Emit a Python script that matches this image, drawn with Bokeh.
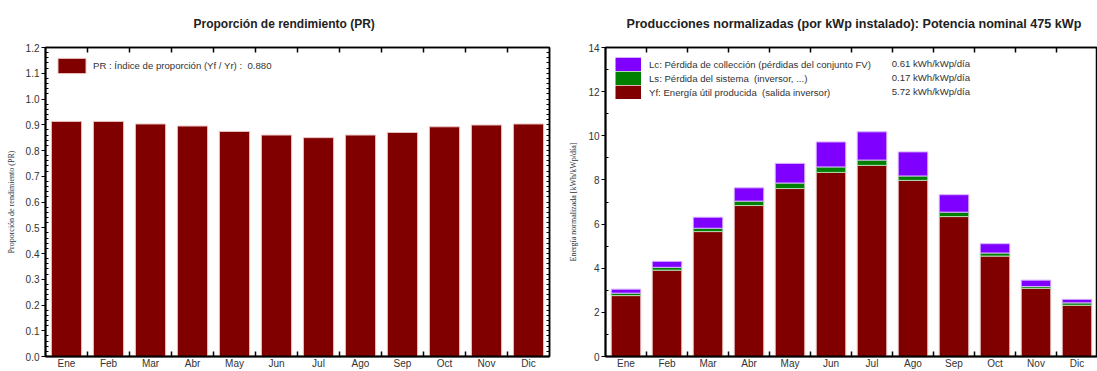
from bokeh.plotting import figure
from bokeh.layouts import row
from bokeh.models import (Range1d, LinearAxis, FixedTicker, NumeralTickFormatter,
                          Legend, LegendItem, Label, ColumnDataSource)
from bokeh.embed import file_html
from bokeh.resources import INLINE

# ---------------- data ----------------
months = ["Ene", "Feb", "Mar", "Abr", "May", "Jun", "Jul", "Ago", "Sep", "Oct", "Nov", "Dic"]
pr = [0.913, 0.913, 0.903, 0.895, 0.874, 0.860, 0.850, 0.860, 0.870, 0.892, 0.899, 0.903]
yf = [2.76, 3.91, 5.66, 6.84, 7.61, 8.34, 8.66, 7.98, 6.34, 4.55, 3.09, 2.32]
ls = [0.11, 0.13, 0.15, 0.20, 0.25, 0.25, 0.24, 0.20, 0.20, 0.14, 0.08, 0.11]
lc = [0.18, 0.27, 0.50, 0.60, 0.89, 1.13, 1.28, 1.09, 0.79, 0.42, 0.29, 0.16]
pr_year = "0.880"
lc_avg = "0.61 kWh/kWp/día"
ls_avg = "0.17 kWh/kWp/día"
yf_avg = "5.72 kWh/kWp/día"
pr_ticks = [0.0, 0.1, 0.2, 0.3, 0.4, 0.5, 0.6, 0.7, 0.8, 0.9, 1.0, 1.1, 1.2]
en_ticks = [0, 2, 4, 6, 8, 10, 12, 14]
en_minor = [1, 3, 5, 7, 9, 11, 13]
title_pr = "Proporción de rendimiento (PR)"
title_en = "Producciones normalizadas (por kWp instalado):  Potencia nominal 475 kWp"

FONT = "Liberation Sans"
SERIF = "Liberation Serif"
RED = "#800000"
GREEN = "#008000"
PURPLE = "#8000ff"

xc = [i + 0.5 for i in range(len(months))]
bounds = list(range(1, len(months)))


def pr_minor(ticks):
    out = []
    for a, b in zip(ticks[:-1], ticks[1:]):
        for k in range(1, 5):
            out.append(a + (b - a) * k / 5)
    return out


def base_fig(width, title, title_size, ymax, bl, br, offset):
    p = figure(width=width, height=371, output_backend="svg", toolbar_location=None,
               x_range=Range1d(0, len(months)), y_range=Range1d(0, ymax),
               min_border_left=bl, min_border_right=br, min_border_top=47,
               min_border_bottom=0, x_axis_type=None, y_axis_type=None)
    p.title.text = title
    p.title.text_font = FONT
    p.title.text_font_size = title_size
    p.title.text_font_style = "bold"
    p.title.text_color = "#222222"
    p.title.align = "left"
    p.title.offset = offset
    p.title.vertical_align = "top"
    p.title.standoff = 30
    p.xgrid.visible = False
    p.ygrid.visible = False
    p.outline_line_color = "black"
    p.outline_line_width = 1.5
    p.background_fill_color = "white"
    p.border_fill_color = "white"

    xb = LinearAxis(ticker=FixedTicker(ticks=xc, minor_ticks=bounds))
    xb.major_label_overrides = {x: m for x, m in zip(xc, months)}
    xb.major_tick_in = 0
    xb.major_tick_out = 0
    xb.minor_tick_in = 5
    xb.minor_tick_out = 0
    xb.minor_tick_line_width = 1.5
    xb.axis_line_width = 2
    xb.major_label_standoff = 1
    xb.major_label_text_font = FONT
    xb.major_label_text_font_size = "10px"
    xb.major_label_text_color = "#333333"
    p.add_layout(xb, "below")

    xt = LinearAxis(ticker=FixedTicker(ticks=[], minor_ticks=bounds))
    xt.major_label_standoff = 0
    xt.major_tick_in = 0
    xt.major_tick_out = 0
    xt.minor_tick_in = 5
    xt.minor_tick_out = 0
    xt.minor_tick_line_width = 1.5
    xt.axis_line_width = 1.5
    p.add_layout(xt, "above")
    return p


def style_y(ax, label):
    ax.major_tick_out = 4
    ax.major_tick_in = 0
    ax.minor_tick_in = 3
    ax.minor_tick_out = 0
    ax.axis_line_width = 2
    ax.major_label_standoff = 2
    ax.major_label_text_font = FONT
    ax.major_label_text_font_size = "10px"
    ax.major_label_text_color = "#333333"
    ax.axis_label = label
    ax.axis_label_text_font = SERIF
    ax.axis_label_text_font_size = "8px"
    ax.axis_label_text_font_style = "normal"
    ax.axis_label_text_color = "#333333"
    ax.axis_label_standoff = 7


# ---------------- left chart ----------------
p1 = base_fig(560, title_pr, "12px", 1.2, 45, 11, 148)
yl = LinearAxis(ticker=FixedTicker(ticks=pr_ticks, minor_ticks=pr_minor(pr_ticks)),
                formatter=NumeralTickFormatter(format="0.0"))
style_y(yl, "Proporción de rendimiento (PR)")
p1.add_layout(yl, "left")
yr = LinearAxis(ticker=FixedTicker(ticks=[], minor_ticks=pr_ticks + pr_minor(pr_ticks)))
yr.major_label_standoff = 0
yr.major_tick_in = 0
yr.major_tick_out = 0
yr.minor_tick_in = 3
yr.minor_tick_out = 0
yr.axis_line_width = 1.5
p1.add_layout(yr, "right")

src1 = ColumnDataSource(dict(x=xc, pr=pr))
r_pr = p1.vbar(x="x", top="pr", width=0.72, source=src1, fill_color=RED,
               line_color="#e9c4c4", line_width=1)
leg1 = Legend(items=[LegendItem(label="PR : Índice de proporción (Yf / Yr) :  " + pr_year,
                                renderers=[r_pr])],
              location="top_left", margin=0, padding=9, glyph_width=35, glyph_height=19,
              label_height=19, label_standoff=4, label_text_font=FONT,
              label_text_font_size="9.6px", label_text_color="#333333",
              border_line_alpha=0, background_fill_alpha=0)
p1.add_layout(leg1)

# ---------------- right chart ----------------
p2 = base_fig(537, title_en, "12.6px", 14, 45, 0, 21)
y2 = LinearAxis(ticker=FixedTicker(ticks=en_ticks, minor_ticks=en_minor))
style_y(y2, "Energía normalizada [kWh/kWp/día]")
p2.add_layout(y2, "left")

src2 = ColumnDataSource(dict(x=xc, yf=yf, ls=ls, lc=lc))
rs = p2.vbar_stack(["yf", "ls", "lc"], x="x", width=0.72, source=src2,
                   fill_color=[RED, GREEN, PURPLE],
                   line_color=["#e9c4c4", "#b0d8b0", "#d8b0ff"], line_width=1)

# legend swatches: line renderers on a hidden range (never visible in the frame),
# drawn in the legend as thick butt-capped bands so the swatches stack contiguously
p2.extra_y_ranges = {"legend_only": Range1d(1000, 1001)}
sw = {}
for name, col in [("lc", PURPLE), ("ls", GREEN), ("yf", RED)]:
    sw[name] = p2.line(x="x", y=name, source=src2, y_range_name="legend_only",
                       line_color=col, line_width=13.6, line_cap="butt")

leg2 = Legend(items=[
    LegendItem(label="Lc: Pérdida de collección (pérdidas del conjunto FV)", renderers=[sw["lc"]]),
    LegendItem(label="Ls: Pérdida del sistema  (inversor, ...)", renderers=[sw["ls"]]),
    LegendItem(label="Yf: Energía útil producida  (salida inversor)", renderers=[sw["yf"]]),
], location="top_left", margin=0, padding=10, glyph_width=26, glyph_height=14,
    label_height=14, spacing=0, label_standoff=8, label_text_font=FONT,
    label_text_font_size="9.6px", label_text_color="#333333",
    border_line_alpha=0, background_fill_alpha=0)
p2.add_layout(leg2)

for txt, yv in zip([lc_avg, ls_avg, yf_avg], [13.28, 12.64, 12.0]):
    p2.add_layout(Label(x=6.98, y=yv, text=txt, text_font=FONT, text_font_size="9.6px",
                        text_color="#333333", text_baseline="middle", text_align="left"))

layout = row(p1, p2)
open("out.html", "w").write(file_html(layout, INLINE))
